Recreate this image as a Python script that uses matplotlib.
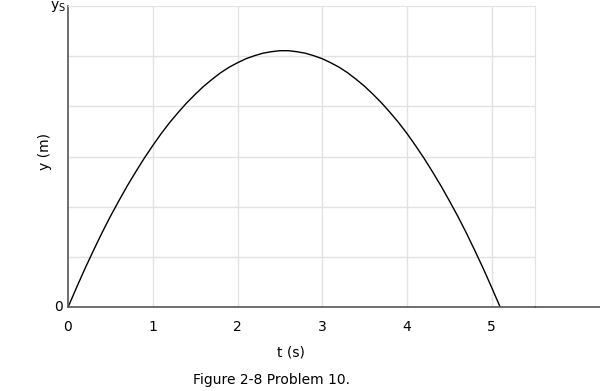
import matplotlib
matplotlib.use('Agg')
import matplotlib.pyplot as plt
from matplotlib.lines import Line2D

# valores (y em divisões da grelha)
t_vals = [0.0, 0.1, 0.2, 0.3, 0.4, 0.5, 0.6, 0.7, 0.8, 0.9, 1.0, 1.1, 1.2, 1.3,
          1.4, 1.5, 1.6, 1.7, 1.8, 1.9, 2.0, 2.1, 2.2, 2.3, 2.4, 2.5, 2.6, 2.7,
          2.8, 2.9, 3.0, 3.1, 3.2, 3.3, 3.4, 3.5, 3.6, 3.7, 3.8, 3.9, 4.0, 4.1,
          4.2, 4.3, 4.4, 4.5, 4.6, 4.7, 4.8, 4.9, 5.0, 5.1]
y_vals = [0.0, 0.39, 0.77, 1.13, 1.48, 1.81, 2.12, 2.42, 2.70, 2.97, 3.22, 3.46, 3.68, 3.88,
          4.07, 4.24, 4.40, 4.54, 4.67, 4.78, 4.87, 4.95, 5.01, 5.06, 5.09, 5.11, 5.11, 5.09,
          5.06, 5.01, 4.95, 4.87, 4.78, 4.67, 4.54, 4.40, 4.24, 4.07, 3.88, 3.68, 3.46, 3.22,
          2.97, 2.70, 2.42, 2.12, 1.81, 1.48, 1.13, 0.77, 0.39, 0.0]
x_ticks = [0, 1, 2, 3, 4, 5]
x_tick_labels = ['0', '1', '2', '3', '4', '5']

grid_c = '#e2e2e2'
axis_c = '#555555'
fs = 10

fig = plt.figure(figsize=(6, 3.91), dpi=100)
ax = fig.add_axes([68 / 600, (391 - 307.3) / 391, (535 - 68) / 600, (307.3 - 6) / 391])
ax.set_xlim(0, 5.51)
ax.set_ylim(0, 6)

for gx in [1, 2, 3, 4, 5]:
    ax.axvline(gx, color=grid_c, lw=1, zorder=0)
for gy in [1, 2, 3, 4, 5]:
    ax.axhline(gy, color=grid_c, lw=1, zorder=0)

ax.plot(t_vals, y_vals, color='black', lw=1.0)

ax.spines['top'].set_color(grid_c)
ax.spines['right'].set_color(grid_c)
ax.spines['left'].set_color(axis_c)
ax.spines['bottom'].set_color(axis_c)
ax.spines['left'].set_linewidth(1.2)
ax.spines['bottom'].set_linewidth(1.2)
ax.set_xticks([])
ax.set_yticks([])

# eixo horizontal prolonga-se até à margem
fig.add_artist(Line2D([535 / 600, 1.0], [(391 - 307.3) / 391] * 2,
                      color=axis_c, lw=1.2, transform=fig.transFigure))

# rótulos dos ticks
tr = ax.get_xaxis_transform()
for xt, lab in zip(x_ticks, x_tick_labels):
    ax.text(xt, -0.065, lab, transform=tr, ha='center', va='center', fontsize=fs)
ax.text(-0.01, 0.0, '0', transform=ax.get_yaxis_transform(), ha='right', va='center',
        fontsize=fs)

fig.text(58 / 600, 1 - 6 / 391, r'y$_\mathregular{S}$', ha='center', va='center', fontsize=fs)
fig.text(45 / 600, 1 - 152 / 391, 'y (m)', rotation=90, ha='center', va='center', fontsize=fs)
fig.text(291 / 600, 1 - 352 / 391, 't (s)', ha='center', va='center', fontsize=fs)
fig.text(193 / 600, 1 - 380 / 391, 'Figure 2-8 Problem 10.', ha='left', va='center',
         fontsize=fs)

plt.savefig('out.png', dpi=100)
plt.close(fig)
